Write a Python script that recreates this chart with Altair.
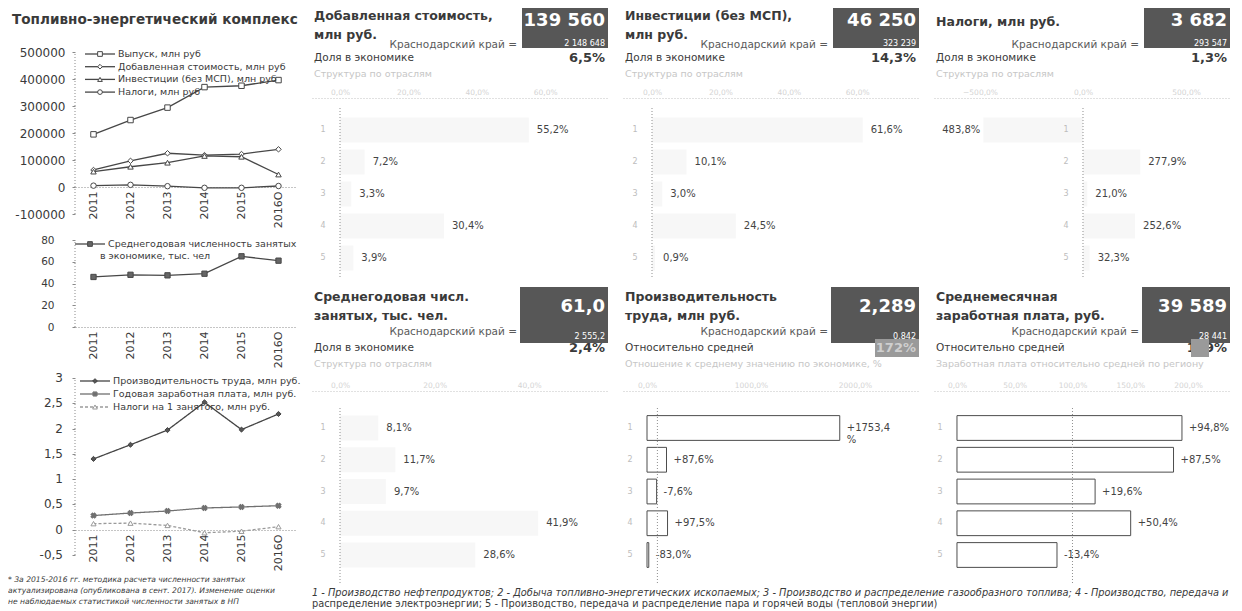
import altair as alt
import pandas as pd

# ---------------- data ----------------
years = ["2011", "2012", "2013", "2014", "2015", "2016О"]

fec_series = ["Выпуск, млн руб", "Добавленная стоимость, млн руб",
              "Инвестиции (без МСП), млн руб", "Налоги, млн руб"]
fec_output = [195000, 248000, 294000, 370000, 375000, 396000]
fec_value_added = [63000, 97000, 125000, 118000, 122000, 139560]
fec_investment = [57000, 75000, 90000, 115000, 112000, 46250]
fec_taxes = [5000, 8000, 3000, -3000, -3000, 3682]

empl_series = ["Среднегодовая численность занятых", "в экономике, тыс. чел"]
empl_values = [46, 48, 47.5, 49, 65, 61.0]

eff_series = ["Производительность труда, млн руб.",
              "Годовая заработная плата, млн руб.",
              "Налоги на 1 занятого, млн руб."]
eff_productivity = [1.40, 1.68, 1.97, 2.52, 1.98, 2.289]
eff_wage = [0.28, 0.33, 0.37, 0.43, 0.45, 0.475]
eff_tax_per_worker = [0.12, 0.13, 0.085, -0.06, -0.03, 0.06]
eff_ticks = [-0.5, 0, 0.5, 1, 1.5, 2, 2.5, 3]
eff_tick_labels = ["-0,5", "0", "0,5", "1", "1,5", "2", "2,5", "3"]

industries = ["1", "2", "3", "4", "5"]
va_structure = [55.2, 7.2, 3.3, 30.4, 3.9]
inv_structure = [61.6, 10.1, 3.0, 24.5, 0.9]
tax_structure = [-483.8, 277.9, 21.0, 252.6, 32.3]
empl_structure = [8.1, 11.7, 9.7, 41.9, 28.6]
productivity_vs_avg = [1753.4, 87.6, -7.6, 97.5, -83.0]
wage_vs_avg = [94.8, 87.5, 19.6, 50.4, -13.4]

panel_titles = [["Добавленная стоимость,", "млн руб."],
                ["Инвестиции (без МСП),", "млн руб."],
                ["Налоги, млн руб."],
                ["Среднегодовая числ.", "занятых, тыс. чел."],
                ["Производительность", "труда, млн руб."],
                ["Среднемесячная", "заработная плата, руб."]]
headline_values = ["139 560", "46 250", "3 682", "61,0", "2,289", "39 589"]
region_values = ["2 148 648", "323 239", "293 547", "2 555,2", "0,842", "28 441"]
share_labels = ["Доля в экономике"] * 4 + ["Относительно средней"] * 2
share_values = ["6,5%", "14,3%", "1,3%", "2,4%", "172%", "139%"]
subtitles = ["Структура по отраслям"] * 4 + [
    "Отношение к среднему значению по экономике, %",
    "Заработная плата относительно средней по региону"]
region_label = "Краснодарский край ="
left_title = "Топливно-энергетический комплекс"
left_note = ["* За 2015-2016 гг. методика расчета численности занятых",
             "актуализирована (опубликована в сент. 2017). Изменение оценки",
             "не наблюдаемых статистикой численности занятых в НП"]
bottom_note = ["1 - Производство нефтепродуктов; 2 - Добыча топливно-энергетических ископаемых; "
               "3 - Производство и распределение газообразного топлива; 4 - Производство, передача и",
               "распределение электроэнергии; 5 - Производство, передача и распределение пара и "
               "горячей воды (тепловой энергии)"]

# ---------------- styles ----------------
FONT = "DejaVu Sans"
INK = "#3a3a3a"
LINE = "#474747"
BOX = "#575757"
AXC = "#8a8a8a"
ONE = pd.DataFrame({"k": [0]})


def text_layer(x, y, text, size=10.0, weight="normal", color=INK, align="left",
               style="normal", baseline="middle", line_height=None):
    props = dict(font=FONT, fontSize=size, fontWeight=weight, color=color,
                 align=align, baseline=baseline, fontStyle=style)
    if line_height is not None:
        props["lineHeight"] = line_height
    return alt.Chart(ONE).mark_text(**props).encode(
        x=alt.value(x), y=alt.value(y), text=alt.value(text))


def rect_layer(x, x2, y, y2, color):
    return alt.Chart(ONE).mark_rect(color=color).encode(
        x=alt.value(x), x2=alt.value(x2), y=alt.value(y), y2=alt.value(y2))


def legend_layers(x0, y, shape, label, color=LINE, fill="white", dash=None, size=9.5, angle=0):
    rp = dict(color=color, strokeWidth=1.3)
    if dash:
        rp["strokeDash"] = dash
    return [
        alt.Chart(ONE).mark_rule(**rp).encode(
            x=alt.value(x0), x2=alt.value(x0 + 30), y=alt.value(y)),
        alt.Chart(ONE).mark_point(shape=shape, filled=True, fill=fill, stroke=color,
                                  strokeWidth=1, size=22, opacity=1, angle=angle).encode(
            x=alt.value(x0 + 15), y=alt.value(y)),
        text_layer(x0 + 33, y, label, size=size),
    ]


def series_frame(names, arrays):
    return pd.DataFrame([{"year": yr, "value": v, "series": n}
                         for n, arr in zip(names, arrays) for yr, v in zip(years, arr)])


def stretched_domain(lo, hi, px_lo, px_hi, total):
    """Domain of a y scale spanning `total` px so that lo sits at px_lo and hi at px_hi."""
    k = (hi - lo) / (px_lo - px_hi)
    return [lo - (total - px_lo) * k, hi + px_hi * k]


def year_axis(offset):
    return alt.Axis(orient="bottom", labelAngle=-90, offset=offset, ticks=False, labelFont=FONT,
                    labelFontSize=11, labelColor=INK, labelPadding=4,
                    domainColor=AXC, domainDash=[1, 2], title=None, grid=False)


def value_axis(values, size, pad, expr=None, labels=True):
    kw = dict(orient="left", values=values, labelFont=FONT, labelFontSize=size,
              labelColor=INK, labelPadding=pad, tickSize=3, tickColor=AXC, domain=False,
              title=None, grid=False, labelOverlap=False, labels=labels)
    if expr:
        kw["labelExpr"] = expr
    return alt.Axis(**kw)


def y_domain_rule(lo, hi, yscale, yaxis):
    return alt.Chart(ONE).transform_calculate(lo=str(lo), hi=str(hi)).mark_rule(
        color=AXC, strokeDash=[1, 2], strokeWidth=1).encode(
        x=alt.value(0), y=alt.Y("lo:Q", scale=yscale, axis=yaxis, title=None), y2="hi:Q")


INT_LABEL = "replace(format(datum.value, 'd'), '−', '-')"

# ---------------- left column (one view, three stacked sub-charts) ----------------
LW, LH = 222, 547

# chart 1 : plot band 44..206 px
ys1 = alt.Scale(domain=stretched_domain(-100000, 500000, 206, 44, LH), nice=False, zero=False)
ya1 = value_axis([-100000, 0, 100000, 200000, 300000, 400000, 500000], 12, 7, INT_LABEL)
df1 = series_frame(fec_series, [fec_output, fec_value_added, fec_investment, fec_taxes])
shapes1 = ["square", "diamond", "triangle-up", "circle"]
x1 = alt.X("year:N", sort=years, axis=year_axis(-(LH - 179)), title=None)
y1 = alt.Y("value:Q", scale=ys1, axis=ya1, title=None)
lines1 = alt.Chart(df1).mark_line(color=LINE, strokeWidth=1.3).encode(x=x1, y=y1, detail="series:N")
pts1 = alt.Chart(df1).mark_point(filled=True, fill="white", stroke=LINE, strokeWidth=1,
                                 size=30, opacity=1).encode(
    x=x1, y=y1,
    shape=alt.Shape("series:N", scale=alt.Scale(domain=fec_series, range=shapes1), legend=None))
leg1 = []
for i, (s, n) in enumerate(zip(shapes1, fec_series)):
    leg1 += legend_layers(10, 46 + 12.7 * i, s, n)
L1 = alt.layer(y_domain_rule(-100000, 500000, ys1, ya1), lines1, pts1, *leg1)

# chart 2 : plot band 232..319 px
ys2 = alt.Scale(domain=stretched_domain(0, 80, 319, 232, LH), nice=False, zero=False)
ya2 = value_axis([0, 20, 40, 60, 80], 10.5, 18, INT_LABEL)
df2 = pd.DataFrame({"year": years, "value": empl_values})
x2 = alt.X("year:N", sort=years, axis=year_axis(-(LH - 319)), title=None)
y2 = alt.Y("value:Q", scale=ys2, axis=ya2, title=None)
lines2 = alt.Chart(df2).mark_line(color=LINE, strokeWidth=1.3).encode(x=x2, y=y2)
pts2 = alt.Chart(df2).mark_point(shape="square", filled=True, fill="#666666", stroke=LINE,
                                 strokeWidth=1, size=28, opacity=1).encode(x=x2, y=y2)
leg2 = legend_layers(0, 236, "square", empl_series[0], fill="#666666")
leg2.append(text_layer(25, 248, empl_series[1], size=9.5))
L2 = alt.layer(y_domain_rule(0, 80, ys2, ya2), lines2, pts2, *leg2)

# chart 3 : plot band 370..547 px ; tick labels drawn as text through the y scale
ys3 = alt.Scale(domain=stretched_domain(-0.5, 3, 547, 370, LH), nice=False, zero=False)
ya3 = value_axis(eff_ticks, 12, 9, labels=False)
df3 = series_frame(eff_series, [eff_productivity, eff_wage, eff_tax_per_worker])
x3 = alt.X("year:N", sort=years, axis=year_axis(-25), title=None)
y3 = alt.Y("value:Q", scale=ys3, axis=ya3, title=None)
eff_colors = ["#444444", "#707070", "#9a9a9a"]
eff_dash = [[1, 0], [1, 0], [3, 2]]
lines3 = alt.Chart(df3).mark_line(strokeWidth=1.3).encode(
    x=x3, y=y3,
    color=alt.Color("series:N", scale=alt.Scale(domain=eff_series, range=eff_colors), legend=None),
    strokeDash=alt.StrokeDash("series:N", scale=alt.Scale(domain=eff_series, range=eff_dash),
                              legend=None))
tick_df = pd.DataFrame({"value": eff_ticks, "lbl": eff_tick_labels})
ticklbl3 = alt.Chart(tick_df).mark_text(font=FONT, fontSize=12, color=INK, align="right",
                                        baseline="middle").encode(
    x=alt.value(-12), y=alt.Y("value:Q", scale=ys3, axis=ya3, title=None), text="lbl:N")
point_styles = [dict(shape="diamond", fill="#555555", angle=0),
                dict(shape="cross", fill="#707070", angle=45),
                dict(shape="triangle-up", fill="white", angle=0)]
pts3 = []
for n, col, st in zip(eff_series, eff_colors, point_styles):
    pts3.append(alt.Chart(df3).transform_filter(alt.datum.series == n).mark_point(
        shape=st["shape"], filled=True, fill=st["fill"], stroke=col, strokeWidth=1,
        size=26, opacity=1, angle=st["angle"]).encode(x=x3, y=y3))
leg3 = []
for i, (n, col, st, d) in enumerate(zip(eff_series, eff_colors, point_styles, eff_dash)):
    leg3 += legend_layers(5, 373 + 13 * i, st["shape"], n, color=col, fill=st["fill"],
                          dash=d if d != [1, 0] else None, angle=st["angle"])
L3 = alt.layer(y_domain_rule(-0.5, 3, ys3, ya3), lines3, ticklbl3, *pts3, *leg3)

left_extras = alt.layer(
    text_layer(-63, 12, left_title, size=13.6, weight="bold", color=INK),
    text_layer(-67, 572, left_note, size=7.6, style="italic", line_height=11.2),
)

left = alt.layer(L1, L2, L3, left_extras).resolve_scale(
    x="independent", y="independent").properties(width=LW, height=LH)

# ---------------- panels ----------------
PW, PH = 296, 599
TOP_H = 279


def fmt_pct(v, signed):
    s = f"{abs(v):.1f}".replace(".", ",")
    if signed:
        s = ("+" if v >= 0 else "-") + s
    return s + (" %" if abs(v) >= 1000 else "%")


def panel(k, values, mode, xdomain, top, extra=None):
    oy = 0 if top else TOP_H
    layers = []
    box_y2 = 40 if top else 56
    layers.append(rect_layer(210 if top else 208, PW, oy, oy + box_y2, BOX))
    layers.append(text_layer(293, oy + (13 if top else 20), headline_values[k], size=18,
                             weight="bold", color="white", align="right"))
    layers.append(text_layer(293, oy + (36 if top else 50), region_values[k], size=8,
                             color="white", align="right"))
    layers.append(text_layer(205, oy + (37 if top else 45), region_label, size=10.5,
                             color="#5a5a5a", align="right"))
    t = panel_titles[k]
    if len(t) == 1:
        layers.append(text_layer(2, oy + 14, t[0], size=12.5, weight="bold"))
    else:
        ty = oy + (8 if top else 10)
        layers.append(text_layer(2, ty, t[0], size=12.5, weight="bold"))
        layers.append(text_layer(2, ty + 19, t[1], size=12.5, weight="bold"))
    sy = oy + (50 if top else 61)
    layers.append(text_layer(2, sy, share_labels[k], size=10.5))
    if mode == "rel" and k == 4:
        layers.append(rect_layer(252, PW, sy - 9, sy + 9, "#9a9a9a"))
        layers.append(text_layer(293, sy, share_values[k], size=13, weight="bold",
                                 color="#cfcfcf", align="right"))
    elif mode == "rel":
        layers.append(text_layer(293, sy, share_values[k], size=13, weight="bold", align="right"))
        layers.append(rect_layer(257, 275, sy - 9, sy + 9, "#9a9a9a"))
    else:
        layers.append(text_layer(293, sy, share_values[k], size=13, weight="bold", align="right"))
    layers.append(text_layer(2, sy + 16, subtitles[k], size=9.5, color="#c6c6c6"))

    # bar block: rows 1..5 at fixed spacing inside the column
    if top:
        first, step = 122, 32.0
    else:
        first, step = TOP_H + 141, 31.75
    d0 = 1 - first / step
    ys = alt.Scale(domain=[d0, d0 + PH / step], nice=False, zero=False, reverse=True)
    xs = alt.Scale(domain=xdomain, nice=False, zero=False)
    xaxis = alt.Axis(orient="top", offset=-(90 if top else TOP_H + 104), ticks=False, grid=False,
                     labelFont=FONT, labelFontSize=7.5, labelColor="#d4d4d4",
                     domainColor="#c2c2c2", domainDash=[1, 2], tickCount=4, title=None,
                     labelExpr="replace(format(datum.value, '.1f'), '.', ',') + '%'")
    signed = mode == "rel"
    df = pd.DataFrame({"cat": industries, "idx": [1, 2, 3, 4, 5], "v": values,
                       "lbl": [fmt_pct(v, signed) for v in values]})
    end_expr = "datum.v" if mode == "struct" else "100 + datum.v"
    base = alt.Chart(df).transform_calculate(
        end=end_expr, start="0", y0="datum.idx - 0.39", y1="datum.idx + 0.39")
    if mode == "struct":
        bar_mark = dict(fill="#f7f7f7", strokeWidth=0)
    else:
        bar_mark = dict(fill="white", stroke="#4d4d4d", strokeWidth=1)
    bars = [base.mark_rect(**bar_mark).encode(
        x=alt.X("end:Q", scale=xs, axis=xaxis), x2="start:Q",
        y=alt.Y("y0:Q", scale=ys, axis=None), y2="y1:Q")]
    dx = 8 if mode == "struct" else 7
    bars.append(base.transform_filter("datum.end >= 0").mark_text(
        font=FONT, fontSize=10, color="#444444", align="left", dx=dx, baseline="middle",
        lineBreak=" ").encode(
        x=alt.X("end:Q", scale=xs, axis=xaxis),
        y=alt.Y("idx:Q", scale=ys, axis=None), text="lbl:N"))
    bars.append(base.transform_filter("datum.end < 0").mark_text(
        font=FONT, fontSize=10, color="#444444", align="right", dx=-3, baseline="middle").encode(
        x=alt.X("end:Q", scale=xs, axis=xaxis),
        y=alt.Y("idx:Q", scale=ys, axis=None), text="lbl:N"))
    bars.append(base.mark_text(font=FONT, fontSize=8, color="#bdbdbd", align="center",
                               dx=-17, baseline="middle").encode(
        x=alt.X("start:Q", scale=xs, axis=xaxis),
        y=alt.Y("idx:Q", scale=ys, axis=None), text="cat:N"))
    ref = 0 if mode == "struct" else 100
    ry0, ry1 = (100, 270) if top else (TOP_H + 121, TOP_H + 298)
    bars.append(alt.Chart(ONE).transform_calculate(ref=str(ref)).mark_rule(
        color="#8f8f8f", strokeDash=[1, 2], strokeWidth=1).encode(
        x=alt.X("ref:Q", scale=xs, axis=xaxis), y=alt.value(ry0), y2=alt.value(ry1)))
    if extra:
        layers += extra
    return alt.layer(*layers, *bars)


note_layers = [
    text_layer(0, TOP_H + 306, bottom_note[0], size=9.8, style="italic"),
    text_layer(0, TOP_H + 317, bottom_note[1], size=9.8),
]


def column(top_half, bottom_half):
    return alt.layer(top_half, bottom_half).resolve_scale(
        x="independent", y="independent").properties(width=PW, height=PH)


col_a = column(panel(0, va_structure, "struct", [-8.19, 78.36], True),
               panel(3, empl_structure, "struct", [-5.92, 56.66], False, extra=note_layers))
col_b = column(panel(1, inv_structure, "struct", [-8.48, 78.07], True),
               panel(4, productivity_vs_avg, "rel", [-230.8, 2615.4], False))
col_c = column(panel(2, tax_structure, "struct", [-723.3, 713.6], True),
               panel(5, wage_vs_avg, "rel", [-19.9, 236.4], False))

chart = alt.hconcat(left, col_a, col_b, col_c, spacing=15, bounds="flush").properties(
    padding=0).configure_view(stroke=None)

chart.save("out.html", embed_options={"renderer": "svg", "actions": False})
